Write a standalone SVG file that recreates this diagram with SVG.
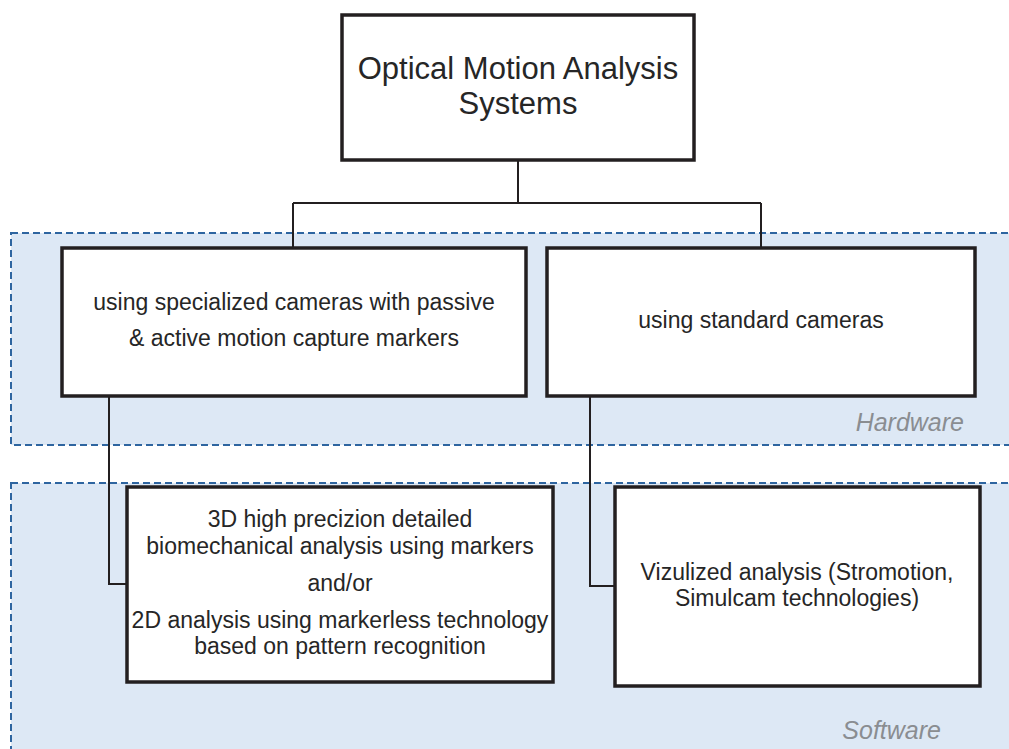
<svg xmlns="http://www.w3.org/2000/svg" width="1009" height="749" viewBox="0 0 1009 749">
<style>
.region{fill:#dde8f5;stroke:#2e65a0;stroke-width:2;stroke-dasharray:7 4}
.box{fill:#ffffff;stroke:#231f20;stroke-width:3.5}
.conn{fill:none;stroke:#231f20;stroke-width:2}
.t{font-family:"Liberation Sans",Arial,sans-serif;fill:#262626;text-anchor:middle;font-size:23px}
.lbl{font-family:"Liberation Sans",Arial,sans-serif;font-style:italic;fill:#8a8d91;font-size:25px;text-anchor:end}
</style>
<rect width="1009" height="749" fill="#ffffff"/>
<g id="region-hardware">
<rect class="region" x="11" y="233" width="1010" height="212"/>
<text class="lbl" x="964" y="431">Hardware</text>
</g>
<g id="region-software">
<rect class="region" x="11" y="483" width="1010" height="280"/>
<text class="lbl" x="941" y="739">Software</text>
</g>
<g id="connectors">
<path class="conn" d="M518 160 V203 M293 203 H761 M293 203 V248 M761 203 V248"/>
<path class="conn" d="M109 396 V584 H127"/>
<path class="conn" d="M590 396 V586 H615"/>
</g>
<g id="node-root">
<rect class="box" x="342" y="15" width="352" height="145"/>
<text class="t" x="518" y="79" style="font-size:31px">Optical Motion Analysis</text>
<text class="t" x="518" y="114" style="font-size:31px">Systems</text>
</g>
<g id="node-specialized">
<rect class="box" x="62" y="248" width="464" height="148"/>
<text class="t" x="294" y="310">using specialized cameras with passive</text>
<text class="t" x="294" y="346">&amp; active motion capture markers</text>
</g>
<g id="node-standard">
<rect class="box" x="547" y="248" width="428" height="148"/>
<text class="t" x="761" y="328">using standard cameras</text>
</g>
<g id="node-3d">
<rect class="box" x="127" y="487" width="426" height="195"/>
<text class="t" x="340" y="527">3D high precizion detailed</text>
<text class="t" x="340" y="554">biomechanical analysis using markers</text>
<text class="t" x="340" y="591">and/or</text>
<text class="t" x="340" y="628">2D analysis using markerless technology</text>
<text class="t" x="340" y="654">based on pattern recognition</text>
</g>
<g id="node-vizualized">
<rect class="box" x="615" y="487" width="365" height="199"/>
<text class="t" x="797" y="580">Vizulized analysis (Stromotion,</text>
<text class="t" x="797" y="606">Simulcam technologies)</text>
</g>
</svg>
